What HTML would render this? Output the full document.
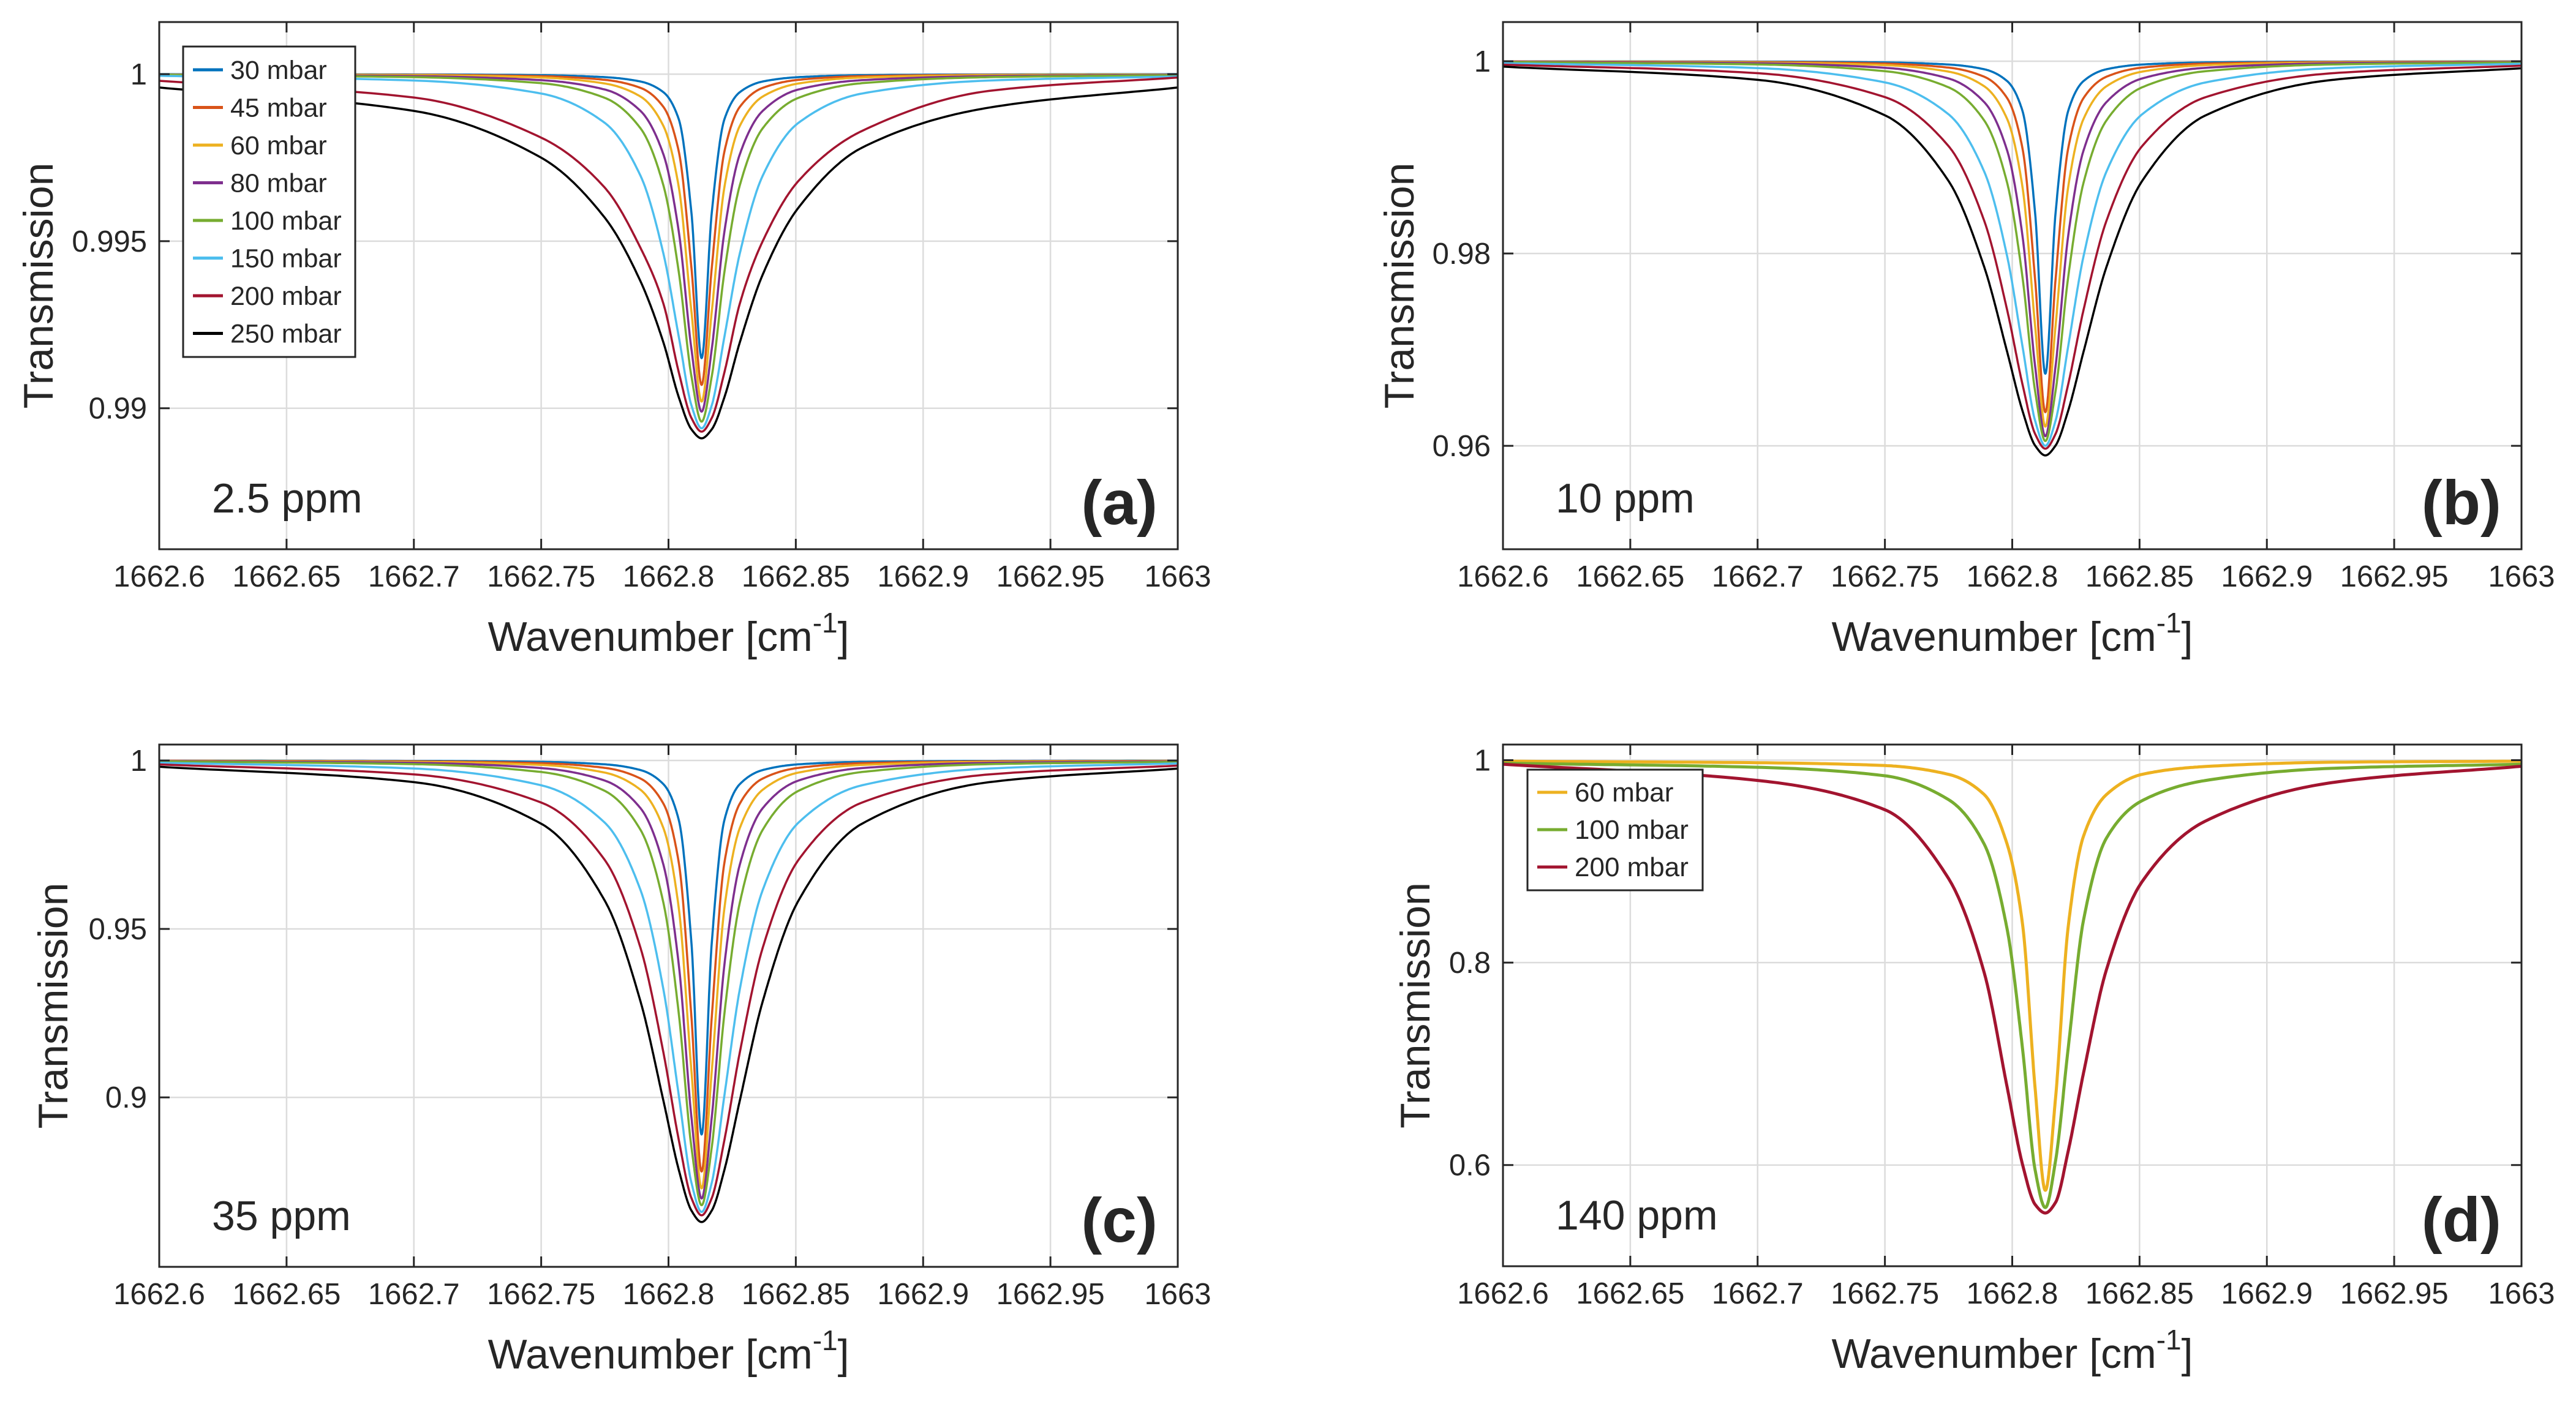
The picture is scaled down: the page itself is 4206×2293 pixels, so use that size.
<!DOCTYPE html>
<html><head><meta charset="utf-8"><style>
html,body{margin:0;padding:0;background:#fff}
svg{display:block}
text{font-family:"Liberation Sans",Arial,sans-serif;fill:#262626}
</style></head><body>
<svg id="fig" width="4206" height="2293" viewBox="0 0 4206 2293" xmlns="http://www.w3.org/2000/svg"></svg>
<script>
// ---- shared data ----
const xPts = [1662.600,1662.700,1662.750,1662.775,1662.789,1662.798,1662.804,1662.809,1662.813,1662.817,1662.822,1662.828,1662.837,1662.851,1662.876,1662.926,1663.000];
const xTicks = [1662.6,1662.65,1662.7,1662.75,1662.8,1662.85,1662.9,1662.95,1663];
const xTickLabels = ["1662.6","1662.65","1662.7","1662.75","1662.8","1662.85","1662.9","1662.95","1663"];
const pressureLabels = ["30 mbar","45 mbar","60 mbar","80 mbar","100 mbar","150 mbar","200 mbar","250 mbar"];
const pressureColors = ["#0072BD","#D95319","#EDB120","#7E2F8E","#77AC30","#4DBEEE","#A2142F","#000000"];

// ---- panel (a) 2.5 ppm ----
const aYTicks = [0.99,0.995,1];
const aYTickLabels = ["0.99","0.995","1"];
const a30  = [1.0000,0.99999,0.99997,0.99991,0.99978,0.99946,0.99866,0.99586,0.9915,0.99586,0.99866,0.99946,0.99978,0.99991,0.99997,0.99999,1.0000];
const a45  = [0.99999,0.99998,0.99994,0.99983,0.99959,0.99902,0.9977,0.99421,0.9907,0.99421,0.9977,0.99902,0.99959,0.99983,0.99994,0.99998,0.99999];
const a60  = [0.99999,0.99997,0.9999,0.99972,0.99933,0.99845,0.99664,0.9929,0.9902,0.9929,0.99664,0.99845,0.99933,0.99972,0.9999,0.99997,0.99999];
const a80  = [0.99998,0.99994,0.99982,0.99954,0.9989,0.9976,0.99531,0.99178,0.9899,0.99178,0.99531,0.9976,0.9989,0.99954,0.99982,0.99994,0.99998];
const a100 = [0.99998,0.99991,0.99973,0.99929,0.99838,0.99667,0.9941,0.99096,0.9896,0.99096,0.9941,0.99667,0.99838,0.99929,0.99973,0.99991,0.99997];
const a150 = [0.99995,0.99981,0.99942,0.99854,0.99696,0.99463,0.99216,0.99009,0.9894,0.99009,0.99216,0.99463,0.99696,0.99854,0.99942,0.99981,0.99993];
const a200 = [0.9998,0.9993,0.9981,0.9966,0.9948,0.99313,0.99109,0.98971,0.9893,0.98971,0.99109,0.99313,0.9950,0.9968,0.9983,0.9995,0.9999];
const a250 = [0.9996,0.9989,0.9975,0.9957,0.9938,0.99197,0.99034,0.98937,0.9891,0.98937,0.99034,0.99197,0.9940,0.9960,0.9978,0.9990,0.9996];

// ---- panel (b) 10 ppm ----
const bYTicks = [0.96,0.98,1];
const bYTickLabels = ["0.96","0.98","1"];
const b30  = [0.99999,0.99996,0.99988,0.99966,0.99917,0.99794,0.99486,0.98417,0.9675,0.98417,0.99486,0.99794,0.99917,0.99966,0.99988,0.99996,0.99999];
const b45  = [0.99998,0.99992,0.99976,0.99934,0.99839,0.99617,0.99098,0.97726,0.9635,0.97726,0.99098,0.99617,0.99839,0.99934,0.99976,0.99992,0.99997];
const b60  = [0.99996,0.99987,0.9996,0.99892,0.9974,0.994,0.98697,0.97245,0.962,0.97245,0.98697,0.994,0.9974,0.99892,0.9996,0.99987,0.99995];
const b80  = [0.99994,0.99979,0.99932,0.99821,0.99575,0.99072,0.9819,0.96825,0.961,0.96825,0.9819,0.99072,0.99575,0.99821,0.99932,0.99979,0.99992];
const b100 = [0.99991,0.99967,0.99897,0.99729,0.99384,0.98736,0.9776,0.96567,0.9605,0.96567,0.9776,0.98736,0.99384,0.99729,0.99897,0.99967,0.99988];
const b150 = [0.9998,0.99929,0.9978,0.99448,0.98852,0.97972,0.9704,0.9626,0.96,0.9626,0.9704,0.97972,0.98852,0.99448,0.9978,0.99929,0.99974];
const b200 = [0.99965,0.99876,0.99627,0.99117,0.9834,0.97413,0.96643,0.96123,0.9597,0.96123,0.96643,0.97413,0.9834,0.99117,0.99627,0.99876,0.99954];
const b250 = [0.99944,0.99807,0.99438,0.98754,0.9786,0.96978,0.96367,0.96002,0.959,0.96002,0.96367,0.96978,0.9786,0.98754,0.99438,0.99807,0.99927];

// ---- panel (c) 35 ppm ----
const cYTicks = [0.9,0.95,1];
const cYTickLabels = ["0.9","0.95","1"];
const c30  = [0.99996,0.99987,0.99958,0.99885,0.99715,0.99297,0.98246,0.94594,0.889,0.94594,0.98246,0.99297,0.99715,0.99885,0.99958,0.99987,0.99995];
const c45  = [0.99993,0.99974,0.9992,0.9978,0.99463,0.98719,0.96987,0.92399,0.878,0.92399,0.96987,0.98719,0.99463,0.9978,0.9992,0.99974,0.99991];
const c60  = [0.99988,0.99958,0.99867,0.99639,0.9913,0.97993,0.95644,0.90792,0.873,0.90792,0.95644,0.97993,0.9913,0.99639,0.99867,0.99958,0.99985];
const c80  = [0.9998,0.99929,0.99774,0.99402,0.98583,0.96906,0.93968,0.89418,0.87,0.89418,0.93968,0.96906,0.98583,0.99402,0.99774,0.99929,0.99974];
const c100 = [0.9997,0.9989,0.99657,0.99096,0.97941,0.95776,0.92516,0.88529,0.868,0.88529,0.92516,0.95776,0.97941,0.99096,0.99657,0.9989,0.9996];
const c150 = [0.99932,0.99761,0.99263,0.98151,0.96154,0.93206,0.90084,0.87471,0.866,0.87471,0.90084,0.93206,0.96154,0.98151,0.99263,0.99761,0.99912];
const c200 = [0.99881,0.99586,0.98751,0.97043,0.94438,0.91333,0.88754,0.87013,0.865,0.87013,0.88754,0.91333,0.94438,0.97043,0.98751,0.99586,0.99846];
const c250 = [0.99812,0.99356,0.98123,0.95835,0.92849,0.89903,0.87862,0.86642,0.863,0.86642,0.87862,0.89903,0.92849,0.95835,0.98123,0.99356,0.99758];

// ---- panel (d) 140 ppm ----
const dYTicks = [0.6,0.8,1];
const dYTickLabels = ["0.6","0.8","1"];
const dLabels = ["60 mbar","100 mbar","200 mbar"];
const dColors = ["#EDB120","#77AC30","#A2142F"];
const d60  = [0.999,0.9975,0.9947,0.986,0.966,0.917,0.839,0.6755,0.575,0.666,0.836,0.925,0.966,0.986,0.9938,0.998,0.999];
const d100 = [0.997,0.993,0.9846,0.961,0.917,0.833,0.716,0.595,0.558,0.604,0.716,0.842,0.923,0.960,0.980,0.992,0.996];
const d200 = [0.996,0.980,0.951,0.883,0.790,0.677,0.601,0.561,0.5526,0.563,0.614,0.691,0.793,0.880,0.940,0.978,0.994];

const NS = "http://www.w3.org/2000/svg";
const svg = document.getElementById('fig');
function mk(tag, attrs, parent){
  const e = document.createElementNS(NS, tag);
  for (const k in attrs) e.setAttribute(k, attrs[k]);
  (parent||svg).appendChild(e);
  return e;
}
function monotonePath(px, py){
  const n = px.length, d = [], m = [];
  for (let i=0;i<n-1;i++) d.push((py[i+1]-py[i])/(px[i+1]-px[i]));
  m[0]=d[0]; m[n-1]=d[n-2];
  for (let i=1;i<n-1;i++){
    if (d[i-1]*d[i] <= 0) m[i]=0;
    else { const w1=2*(px[i+1]-px[i])+(px[i]-px[i-1]), w2=(px[i+1]-px[i])+2*(px[i]-px[i-1]);
      m[i]=(w1+w2)/(w1/d[i-1]+w2/d[i]); }
  }
  let s = "M"+px[0].toFixed(1)+","+py[0].toFixed(1);
  for (let i=0;i<n-1;i++){
    const h = px[i+1]-px[i];
    const steps = 30;
    for (let k=1;k<=steps;k++){
      const t=k/steps, t2=t*t, t3=t2*t;
      const y = (2*t3-3*t2+1)*py[i] + (t3-2*t2+t)*h*m[i] + (-2*t3+3*t2)*py[i+1] + (t3-t2)*h*m[i+1];
      s += "L"+(px[i]+t*h).toFixed(1)+","+y.toFixed(1);
    }
  }
  return s;
}

function panel(cfg){
  const {id,L,R,T,B,ymin,ymax,yTicks,yLabels,series,colors,names,ppm,tag,lw,ytx} = cfg;
  const g = mk('g',{});
  
  
  const sx = v => L + (v-1662.6)/0.4*(R-L);
  const sy = v => B - (v-ymin)/(ymax-ymin)*(B-T);
  xTicks.forEach((t,i)=>{
    const x=sx(t);
    if (i>0 && i<xTicks.length-1){
      const gl = mk('line',{x1:x,x2:x,y1:T,y2:B,stroke:'#dcdcdc','stroke-width':2.5},g);
      
      
    }
  });
  yTicks.forEach(t=>{
    const y=sy(t);
    const gl = mk('line',{x1:L,x2:R,y1:y,y2:y,stroke:'#dcdcdc','stroke-width':2.5},g);
    
    
  });
  const cp = mk('clipPath',{id:'clip-'+id},g);
  mk('rect',{x:L,y:T,width:R-L,height:B-T},cp);
  const cg = mk('g',{'clip-path':'url(#clip-'+id+')'},g);
  series.forEach((ys,si)=>{
    const px = xPts.map(sx), py = ys.map(sy);
    const p = mk('path',{d:monotonePath(px,py),fill:'none',stroke:colors[si],'stroke-width':lw,'stroke-linejoin':'round'},cg);
    
    
  });
  const fr = mk('rect',{x:L,y:T,width:R-L,height:B-T,fill:'none',stroke:'#262626','stroke-width':3},g);
  
  
  xTicks.forEach((t,i)=>{
    const x=sx(t);
    mk('line',{x1:x,x2:x,y1:B,y2:B-17,stroke:'#262626','stroke-width':3},g);
    mk('line',{x1:x,x2:x,y1:T,y2:T+17,stroke:'#262626','stroke-width':3},g);
    const tl = mk('text',{x:x,y:B+61,'font-size':49,'text-anchor':'middle'},g);
    tl.textContent = xTickLabels[i];
    
    
  });
  yTicks.forEach((t,i)=>{
    const y=sy(t);
    mk('line',{x1:L,x2:L+17,y1:y,y2:y,stroke:'#262626','stroke-width':3},g);
    mk('line',{x1:R,x2:R-17,y1:y,y2:y,stroke:'#262626','stroke-width':3},g);
    const tl = mk('text',{x:L-20,y:y+17,'font-size':49,'text-anchor':'end'},g);
    tl.textContent = yLabels[i];
    
    
  });
  const xt = mk('text',{x:(L+R)/2,y:B+166,'font-size':68,'text-anchor':'middle'},g);
  
  
  xt.appendChild(document.createTextNode('Wavenumber [cm'));
  const sup = mk('tspan',{'font-size':46,dy:-30},xt); sup.textContent='-1';
  const cl = mk('tspan',{dy:30},xt); cl.textContent=']';
  const yx = ytx, yc=(T+B)/2;
  const yt = mk('text',{x:yx,y:yc,'font-size':68,'text-anchor':'middle',transform:'rotate(-90 '+yx+' '+yc+')'},g);
  yt.textContent='Transmission';
  
  
  const pt = mk('text',{x:L+86,y:B-60,'font-size':68},g);
  pt.textContent = ppm;
  
  
  const tg = mk('text',{x:R-33,y:B-41,'font-size':102,'font-weight':'bold','text-anchor':'end',fill:'#000'},g);
  tg.textContent = tag;
  
  
  return g;
}
function legend(x0,y0,w,h,first,gap,names,colors,fs){
  const lg = mk('g',{});
  
  
  mk('rect',{x:x0,y:y0,width:w,height:h,fill:'#fff',stroke:'#262626','stroke-width':3},lg);
  names.forEach((n,i)=>{
    const y = first + gap*i;
    const e = mk('g',{},lg);
    
    
    mk('line',{x1:x0+16,x2:x0+65,y1:y,y2:y,stroke:colors[i],'stroke-width':5},e);
    const t = mk('text',{x:x0+77,y:y+15,'font-size':fs,fill:'#000'},e);
    t.textContent = n;
  });
}
panel({id:'a',L:260,R:1923,T:36,B:897,ymin:0.98578,ymax:1.00156,yTicks:aYTicks,yLabels:aYTickLabels,ytx:86,
  series:[a30,a45,a60,a80,a100,a150,a200,a250],colors:pressureColors,names:pressureLabels,ppm:'2.5 ppm',tag:'(a)',lw:3.5});
panel({id:'b',L:2454,R:4117,T:36,B:897,ymin:0.94924,ymax:1.00408,yTicks:bYTicks,yLabels:bYTickLabels,ytx:2308,
  series:[b30,b45,b60,b80,b100,b150,b200,b250],colors:pressureColors,names:pressureLabels,ppm:'10 ppm',tag:'(b)',lw:3.5});
panel({id:'c',L:260,R:1923,T:1216,B:2069,ymin:0.8497,ymax:1.00472,yTicks:cYTicks,yLabels:cYTickLabels,ytx:110,
  series:[c30,c45,c60,c80,c100,c150,c200,c250],colors:pressureColors,names:pressureLabels,ppm:'35 ppm',tag:'(c)',lw:3.5});
panel({id:'d',L:2454,R:4117,T:1216,B:2068,ymin:0.5,ymax:1.01545,yTicks:dYTicks,yLabels:dYTickLabels,ytx:2334,
  series:[d60,d100,d200],colors:dColors,names:dLabels,ppm:'140 ppm',tag:'(d)',lw:5});
legend(299,76,281,507,114,61.5,pressureLabels,pressureColors,43);
legend(2494,1257,286,197,1294,61,dLabels,dColors,44);
</script>
</body></html>
